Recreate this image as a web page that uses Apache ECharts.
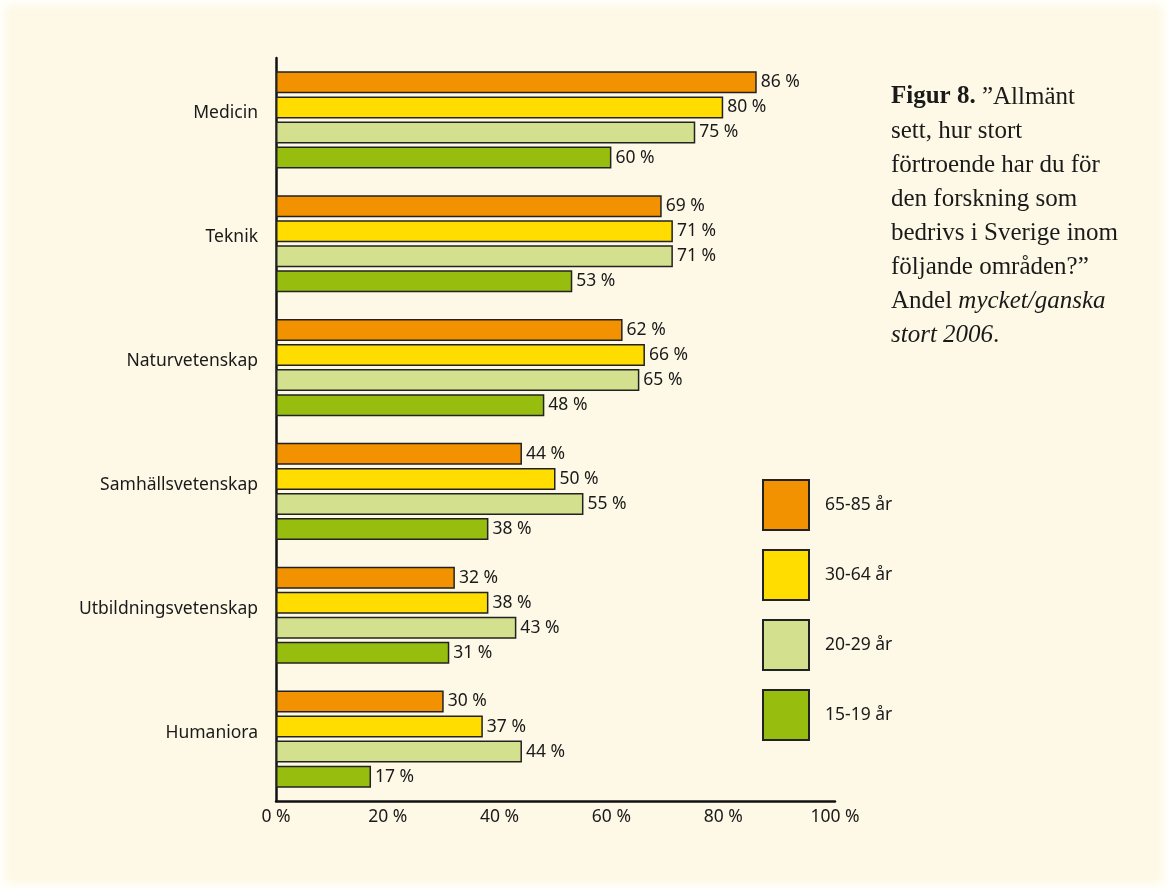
<!DOCTYPE html>
<html>
<head>
<meta charset="utf-8">
<script src="https://cdn.jsdelivr.net/npm/echarts@6/dist/echarts.min.js"></script>
<style>
html,body{margin:0;padding:0;background:#ffffff;}
#frame{position:absolute;left:10px;top:10px;width:1148px;height:869px;background:#fef9e6;box-shadow:0 0 10px 6px #fef9e6;}
#chart{position:absolute;left:0;top:0;width:1168px;height:889px;}
</style>
</head>
<body>
<div id="frame"></div>
<div id="chart"></div>
<script>
const categories = ['Medicin', 'Teknik', 'Naturvetenskap', 'Samhällsvetenskap', 'Utbildningsvetenskap', 'Humaniora'];
const seriesNames = ['65-85 år', '30-64 år', '20-29 år', '15-19 år'];
const values6585 = [86, 69, 62, 44, 32, 30];
const values3064 = [80, 71, 66, 50, 38, 37];
const values2029 = [75, 71, 65, 55, 43, 44];
const values1519 = [60, 53, 48, 38, 31, 17];
const xTicks = [0, 20, 40, 60, 80, 100];
const colors = ['#f39200', '#ffdd00', '#d3e08e', '#97be0e'];

const allValues = [values6585, values3064, values2029, values1519];
const sans = '"Noto Sans", "Open Sans", sans-serif';
const serif = '"Liberation Serif", "DejaVu Serif", serif';

const chart = echarts.init(document.getElementById('chart'));

const series = allValues.map((vals, i) => ({
  name: seriesNames[i],
  type: 'bar',
  data: vals,
  barWidth: 22,
  barGap: '14%',
  itemStyle: { color: colors[i], borderColor: '#222', borderWidth: 1.5 },
  label: {
    show: true,
    position: 'right',
    distance: 4,
    formatter: p => p.value + ' %',
    color: '#1a1a1a',
    fontFamily: sans,
    fontSize: 17.5
  },
  emphasis: { disabled: true }
}));

chart.setOption({
  backgroundColor: 'transparent',
  animation: false,
  grid: { left: 276, right: 333, top: 58, bottom: 88, containLabel: false },
  xAxis: {
    type: 'value',
    min: 0, max: 100, interval: 20,
    axisLine: { show: true, lineStyle: { color: '#111', width: 2.5 } },
    axisTick: { show: false },
    splitLine: { show: false },
    axisLabel: {
      margin: 7,
      color: '#1a1a1a', fontFamily: sans, fontSize: 17.5,
      formatter: v => xTicks.includes(v) ? v + ' %' : ''
    }
  },
  yAxis: {
    type: 'category',
    data: categories,
    inverse: true,
    axisLine: { show: true, lineStyle: { color: '#111', width: 2.5 } },
    axisTick: { show: false },
    axisLabel: {
      margin: 18, color: '#1a1a1a', fontFamily: sans, fontSize: 17.5,
      verticalAlign: 'bottom', lineHeight: 13
    }
  },
  legend: {
    orient: 'vertical',
    left: 762, top: 479,
    padding: 0,
    itemWidth: 46, itemHeight: 50, itemGap: 18,
    icon: 'rect',
    selectedMode: false,
    data: seriesNames,
    textStyle: { color: '#1a1a1a', fontFamily: sans, fontSize: 17.5, padding: [0, 0, 0, 11] }
  },
  graphic: [{
    type: 'text',
    left: 891, top: 80,
    style: {
      text: '{b|Figur 8.} ”Allmänt\nsett, hur stort\nförtroende har du för\nden forskning som\nbedrivs i Sverige inom\nföljande områden?”\nAndel {i|mycket/ganska}\n{i|stort 2006}.',
      fontFamily: serif,
      fontSize: 25,
      lineHeight: 34,
      fill: '#1a1a1a',
      rich: {
        b: { fontWeight: 'bold', fontSize: 25, fontFamily: serif, lineHeight: 34 },
        i: { fontStyle: 'italic', fontSize: 25, fontFamily: serif, lineHeight: 34 }
      }
    }
  }],
  series: series
});
</script>
</body>
</html>
